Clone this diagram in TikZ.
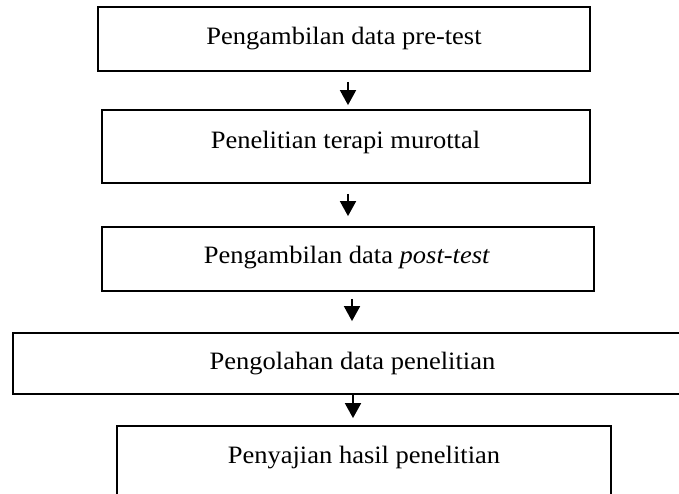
\documentclass[tikz,border=0pt]{standalone}
\usepackage{fontspec}
\setmainfont{Liberation Serif}[FakeStretch=1.06]
\usetikzlibrary{arrows.meta}
\begin{document}
\begin{tikzpicture}[x=1pt,y=-1pt,
  stepbox/.style={draw=black, line width=1.8pt, rectangle, inner sep=0pt, fill=white},
  lbl/.style={font=\fontsize{25}{30}\selectfont, inner sep=0pt, anchor=base},
  arr/.style={line width=1.8pt, -{Triangle[width=16pt,length=15pt]}}]
  \useasboundingbox (0,0) rectangle (679,493);
  % process boxes
  \node[stepbox, minimum width=492, minimum height=64] (b1) at (344,39) {};
  \node[stepbox, minimum width=488, minimum height=73] (b2) at (346,146.5) {};
  \node[stepbox, minimum width=492, minimum height=64] (b3) at (348,259) {};
  \node[stepbox, minimum width=677, minimum height=61] (b4) at (351.5,363.5) {};
  \node[stepbox, minimum width=494, minimum height=74] (b5) at (364,463) {};
  % captions
  \node[lbl] (t1) at (344,44) {Pengambilan data pre-test};
  \node[lbl] (t2) at (345.5,148) {Penelitian terapi murottal};
  \node[lbl] (t3) at (347,263) {Pengambilan data \textit{post-test}};
  \node[lbl] (t4) at (352.5,369) {Pengolahan data penelitian};
  \node[lbl] (t5) at (364,463) {Penyajian hasil penelitian};
  % arrow columns
  \coordinate (c1) at (348,0);
  \coordinate (c2) at (348,0);
  \coordinate (c3) at (352,0);
  \coordinate (c4) at (353,0);
  \draw[arr] ([yshift=-10pt]b1.south -| c1) -- ([yshift=4pt]b2.north -| c1);
  \draw[arr] ([yshift=-10pt]b2.south -| c2) -- ([yshift=10pt]b3.north -| c2);
  \draw[arr] ([yshift=-7pt]b3.south -| c3) -- ([yshift=11pt]b4.north -| c3);
  \draw[arr] (b4.south -| c4) -- ([yshift=7pt]b5.north -| c4);
\end{tikzpicture}
\end{document}
